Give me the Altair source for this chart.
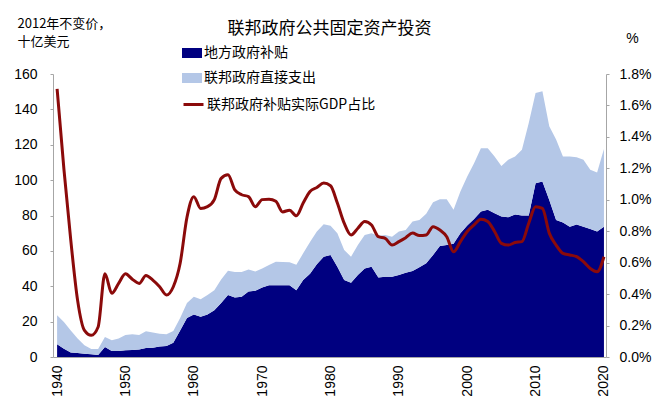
import altair as alt
import pandas as pd

years = list(range(1940, 2021))

# 地方政府补贴 (2012 constant prices, bn USD)
local = [7.2, 4.7, 2.6, 2.3, 1.9, 1.5, 1.1, 5.7, 3.4, 3.4,
         3.8, 4.0, 4.2, 5.1, 5.3, 6.0, 6.2, 8.0, 15.0, 22.0,
         24.0, 22.7, 24.0, 26.5, 30.6, 35.0, 33.6, 34.0, 37.0, 37.4,
         39.3, 40.5, 40.6, 40.5, 40.5, 37.8, 43.5, 47.0, 52.5, 56.7,
         57.6, 51.0, 43.5, 42.0, 46.3, 50.0, 51.0, 45.0, 45.4, 45.4,
         46.3, 47.6, 48.6, 50.7, 53.0, 57.7, 62.8, 63.3, 64.0, 70.0,
         74.3, 78.0, 82.2, 83.2, 81.3, 79.4, 79.0, 80.5, 80.0, 80.0,
         98.3, 99.2, 88.8, 77.5, 76.0, 73.7, 74.9, 73.7, 72.4, 71.0,
         73.7]

# 联邦政府直接支出 (stacked on top)
direct = [16.4, 15.1, 12.4, 8.1, 4.7, 3.0, 3.4, 5.6, 6.1, 7.0,
          8.7, 8.8, 8.3, 9.4, 8.5, 7.2, 6.6, 6.7, 7.0, 8.6,
          10.0, 10.0, 11.0, 11.3, 13.2, 13.8, 14.4, 14.0, 12.5, 11.0,
          10.7, 11.5, 13.3, 13.2, 13.0, 14.4, 15.1, 18.0, 18.5, 18.3,
          16.6, 19.0, 17.0, 14.7, 17.0, 19.0, 19.0, 23.6, 23.6, 22.6,
          24.7, 24.2, 28.0, 26.8, 28.0, 29.8, 26.4, 25.9, 19.2, 23.6,
          27.7, 31.6, 35.8, 34.8, 32.1, 28.6, 32.5, 32.9, 37.2, 52.3,
          51.0, 51.1, 41.6, 45.4, 37.4, 39.7, 38.0, 37.8, 33.5, 33.3,
          43.9]

# 联邦政府补贴实际GDP占比 (%)
ratio = [1.706, 1.193, 0.743, 0.360, 0.169, 0.138, 0.191, 0.529, 0.405, 0.468,
         0.529, 0.495, 0.468, 0.518, 0.489, 0.447, 0.394, 0.447, 0.596, 0.889,
         1.020, 0.945, 0.956, 1.001, 1.136, 1.159, 1.063, 1.032, 1.020, 0.956,
         1.001, 1.004, 0.990, 0.923, 0.934, 0.898, 0.979, 1.053, 1.078, 1.106,
         1.089, 0.979, 0.851, 0.776, 0.819, 0.862, 0.840, 0.765, 0.755, 0.712,
         0.734, 0.759, 0.788, 0.772, 0.776, 0.829, 0.808, 0.765, 0.669, 0.734,
         0.798, 0.840, 0.876, 0.862, 0.798, 0.723, 0.712, 0.728, 0.734, 0.851,
         0.956, 0.945, 0.788, 0.712, 0.659, 0.649, 0.638, 0.606, 0.563, 0.542,
         0.638]

name_local = "地方政府补贴"
name_direct = "联邦政府直接支出"
name_ratio = "联邦政府补贴实际GDP占比"
title_text = "联邦政府公共固定资产投资"
left_unit = ["2012年不变价，", "十亿美元"]

navy = "#000080"
light = "#B4C7E7"
red = "#8B0A0A"
grey = "#A6A6A6"
latin = "Liberation Sans"
cjk = "Noto Sans CJK SC"

rows = []
for i, y in enumerate(years):
    rows.append({"year": y, "series": name_local, "value": local[i], "ord": 0})
    rows.append({"year": y, "series": name_direct, "value": direct[i], "ord": 1})
df_area = pd.DataFrame(rows)
df_line = pd.DataFrame({"year": years, "ratio": ratio, "name": name_ratio})

xscale = alt.Scale(domain=[1939.4, 2020.3], nice=False, zero=False)
xaxis = alt.Axis(values=list(range(1940, 2021, 5)), format="d", labelAngle=270,
                 labelAlign="right", labelBaseline="middle", labelPadding=8,
                 labelFont=latin, labelFontSize=14, labelColor="#000000",
                 ticks=False, domainColor=grey, grid=False, title=None,
                 labelOverlap=False)

sym_rect = "M-1,-0.5L1,-0.5L1,0.5L-1,0.5Z"

area = alt.Chart(df_area).mark_area(interpolate="linear").encode(
    x=alt.X("year:Q", scale=xscale, axis=xaxis),
    y=alt.Y("value:Q", stack="zero",
            scale=alt.Scale(domain=[0, 160], nice=False),
            axis=alt.Axis(values=list(range(0, 161, 20)), grid=False,
                          labelFont=latin, labelFontSize=14, labelColor="#000000",
                          labelPadding=13, tickSize=3, tickColor=grey,
                          domainColor=grey,
                          title=left_unit, titleAngle=0, titleAlign="left",
                          titleBaseline="top", titleX=-36, titleY=-57,
                          titleFont=cjk, titleFontSize=13, titleFontWeight="normal",
                          titleLineHeight=18, titleColor="#000000")),
    fill=alt.Fill("series:N",
                  scale=alt.Scale(domain=[name_local, name_direct], range=[navy, light]),
                  legend=alt.Legend(orient="none", legendX=129, legendY=-31, title=None,
                                    symbolType=sym_rect, symbolSize=400,
                                    symbolStrokeWidth=0, labelFont=cjk,
                                    labelFontSize=14, labelColor="#000000",
                                    labelOffset=2, rowPadding=8, padding=0,
                                    labelLimit=300)),
    order=alt.Order("ord:Q"),
)

line = alt.Chart(df_line).mark_line(interpolate="monotone", strokeWidth=3).encode(
    x=alt.X("year:Q", scale=xscale),
    y=alt.Y("ratio:Q", scale=alt.Scale(domain=[0, 1.8], nice=False),
            axis=alt.Axis(orient="right",
                          values=[0, 0.2, 0.4, 0.6, 0.8, 1.0, 1.2, 1.4, 1.6, 1.8],
                          labelExpr="format(datum.value, '.1f') + '%'",
                          grid=False, labelFont=latin, labelFontSize=14,
                          labelColor="#000000", labelPadding=10, tickSize=3,
                          tickColor=grey, domainColor=grey,
                          title="%", titleAngle=0, titleAlign="center",
                          titleBaseline="middle", titleX=26, titleY=-36,
                          titleFont=latin, titleFontSize=14,
                          titleFontWeight="normal", titleColor="#000000")),
    stroke=alt.Stroke("name:N", scale=alt.Scale(domain=[name_ratio], range=[red]),
                      legend=alt.Legend(orient="none", legendX=129, legendY=19,
                                        title=None, symbolType="stroke",
                                        symbolSize=400, symbolStrokeWidth=3,
                                        labelFont=cjk, labelFontSize=14,
                                        labelColor="#000000", labelOffset=2,
                                        padding=0, labelLimit=300)),
)

chart = alt.layer(area, line).resolve_scale(
    y="independent", fill="independent", stroke="independent"
).properties(
    width=553, height=283,
    autosize=alt.AutoSizeParams(type="none"),
    padding={"left": 45, "top": 66, "right": 46, "bottom": 43},
    title=alt.TitleParams(title_text, font=cjk, fontSize=17, fontWeight="normal",
                          color="#000000", anchor="middle", frame="group",
                          baseline="middle", offset=0, dy=29),
).configure_view(stroke=None)

chart.save("out.html", embed_options={"renderer": "svg", "actions": False})
